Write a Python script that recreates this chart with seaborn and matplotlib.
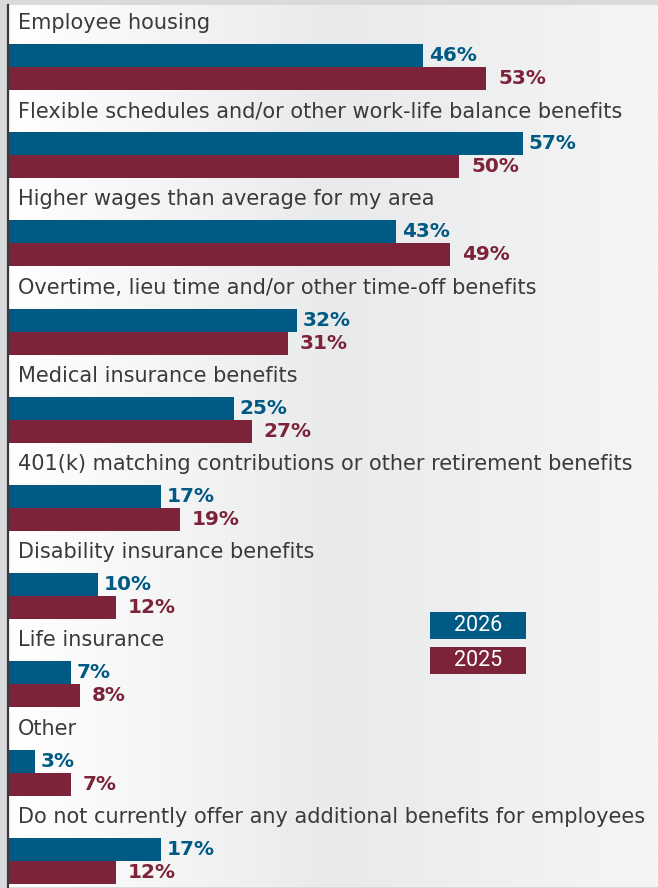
import numpy as np
import pandas as pd
import matplotlib.pyplot as plt
import seaborn as sns
from matplotlib.patches import Rectangle
from matplotlib.colors import LinearSegmentedColormap

CATEGORIES = [
    "Employee housing",
    "Flexible schedules and/or other work-life balance benefits",
    "Higher wages than average for my area",
    "Overtime, lieu time and/or other time-off benefits",
    "Medical insurance benefits",
    "401(k) matching contributions or other retirement benefits",
    "Disability insurance benefits",
    "Life insurance",
    "Other",
    "Do not currently offer any additional benefits for employees",
]
VALUES_2026 = [46, 57, 43, 32, 25, 17, 10, 7, 3, 17]
VALUES_2025 = [53, 50, 49, 31, 27, 19, 12, 8, 7, 12]
YEARS = ["2026", "2025"]

BLUE = "#005a84"
MAROON = "#7d2339"
TEXT = "#3a3a3a"

W, H = 658, 888


def run():
    sns.set_style("white")
    plt.rcParams["font.family"] = ["DejaVu Sans"]

    df = pd.DataFrame({
        "Category": CATEGORIES * 2,
        "Year": [YEARS[0]] * len(CATEGORIES) + [YEARS[1]] * len(CATEGORIES),
        "Value": VALUES_2026 + VALUES_2025,
    })

    fig = plt.figure(figsize=(W / 100, H / 100), dpi=100)
    fig.patch.set_facecolor("#d9dadb")
    rect = [8 / W, 1 / H, 650 / W, 882 / H]

    # gradient panel behind the bars
    bg = fig.add_axes(rect, zorder=0)
    cmap = LinearSegmentedColormap.from_list(
        "bg", [(0, "#ffffff"), (0.5, "#e9eaeb"), (1, "#f5f5f6")])
    bg.imshow(np.linspace(0, 1, 256)[None, :], cmap=cmap, aspect="auto",
              extent=[0, 1, 0, 1])
    bg.axis("off")

    ax = fig.add_axes(rect, zorder=1)
    ax.set_facecolor("none")
    sns.barplot(data=df, y="Category", x="Value", hue="Year", hue_order=YEARS,
                palette=[BLUE, MAROON], orient="h", width=0.52, dodge=True,
                saturation=1, linewidth=0, legend=False, ax=ax)

    ax.set_xlim(0, 72)
    ax.set_ylim(len(CATEGORIES) - 0.703, -0.703)
    ax.set_xlabel("")
    ax.set_ylabel("")
    ax.set_xticks([])
    ax.set_yticks([])
    for side in ["top", "right", "bottom"]:
        ax.spines[side].set_visible(False)
    ax.spines["left"].set_color("#3a3a3a")
    ax.spines["left"].set_linewidth(1.6)

    for i, cat in enumerate(CATEGORIES):
        ax.text(1.1, i - 0.50, cat, ha="left", va="center",
                fontsize=15, color=TEXT)
        ax.annotate(f"{VALUES_2026[i]}%", (VALUES_2026[i], i - 0.13),
                    xytext=(4, 0), textcoords="offset points",
                    ha="left", va="center", fontsize=14.4,
                    fontweight="bold", color=BLUE)
        ax.annotate(f"{VALUES_2025[i]}%", (VALUES_2025[i], i + 0.13),
                    xytext=(8.5, 0), textcoords="offset points",
                    ha="left", va="center", fontsize=14.4,
                    fontweight="bold", color=MAROON)

    # legend boxes
    for (y0, y1), year, color in [((612, 639), YEARS[0], BLUE),
                                  ((647, 674), YEARS[1], MAROON)]:
        fig.add_artist(Rectangle((430 / W, 1 - y1 / H), 96 / W, (y1 - y0) / H,
                                 transform=fig.transFigure, facecolor=color,
                                 edgecolor="none", zorder=3))
        fig.text(478 / W, 1 - (y0 + y1) / 2 / H, year, ha="center", va="center",
                 color="white", fontsize=15.5, family="Roboto", zorder=4)

    fig.savefig("out.png", dpi=100, facecolor=fig.get_facecolor())
    plt.close(fig)


if __name__ == "__main__":
    run()
